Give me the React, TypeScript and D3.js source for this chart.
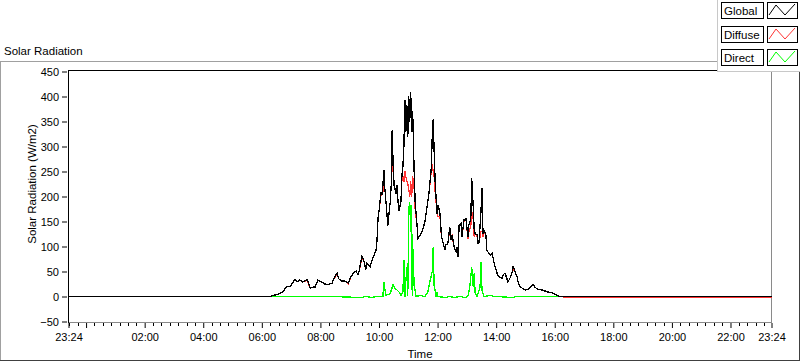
import React, { useEffect, useRef } from "react";
import * as d3 from "d3";

// times are HH:MM; a leading "23:24" belongs to the previous day
const dayTimes = [
  "23:24", "06:17", "06:27", "06:37", "06:43", "06:50", "06:58", "07:04", "07:08", "07:12",
  "07:18", "07:24", "07:33", "07:39", "07:45", "07:49", "07:55", "08:03", "08:09", "08:16",
  "08:24", "08:28", "08:34", "08:38", "08:44", "08:50", "08:57", "09:01", "09:07", "09:13",
  "09:17", "09:19", "09:25", "09:29", "09:33", "09:35", "09:42", "09:48", "09:54", "09:56",
  "09:58", "10:00", "10:04", "10:06", "10:08", "10:10", "10:12", "10:16", "10:18", "10:23",
  "10:25", "10:27", "10:29", "10:31", "10:35", "10:37", "10:39", "10:41", "10:45", "10:47",
  "10:49", "10:51", "10:53", "10:55", "10:57", "10:59", "11:01", "11:03", "11:05", "11:07",
  "11:09", "11:12", "11:14", "11:18", "11:20", "11:24", "11:28", "11:30", "11:34", "11:38",
  "11:42", "11:47", "11:49", "11:51", "11:53", "11:55", "11:59", "12:01", "12:05", "12:08",
  "12:11", "12:15", "12:17", "12:21", "12:25", "12:27", "12:30", "12:34", "12:38", "12:40",
  "12:42", "12:44", "12:48", "12:50", "12:54", "12:58", "13:00", "13:02", "13:04", "13:08",
  "13:10", "13:13", "13:15", "13:17", "13:21", "13:23", "13:25", "13:29", "13:31", "13:33",
  "13:35", "13:39", "13:41", "13:45", "13:49", "13:52", "13:56", "14:02", "14:06", "14:12",
  "14:14", "14:18", "14:22", "14:24", "14:28", "14:33", "14:35", "14:39", "14:43", "14:45",
  "14:49", "14:55", "14:59", "15:05", "15:11", "15:16", "15:20", "15:26", "15:34", "15:40",
  "15:46", "15:54", "16:00", "16:07", "16:15", "16:21", "23:24",
];

const globalValues = [
  0, 0, 3, 6, 9, 19, 20, 29, 35, 29,
  33, 29, 34, 17, 19, 19, 33, 29, 25, 24,
  27, 36, 47, 35, 31, 31, 27, 36, 47, 51,
  43, 49, 81, 71, 54, 66, 60, 79, 92, 112,
  156, 170, 209, 203, 222, 252, 216, 169, 142, 189,
  222, 332, 262, 222, 206, 222, 189, 172, 189, 243,
  260, 300, 393, 330, 383, 320, 400, 350, 408, 330,
  370, 250, 190, 142, 116, 122, 129, 136, 149, 176,
  203, 256, 316, 354, 289, 229, 165, 183, 166, 119,
  109, 93, 103, 106, 139, 113, 123, 99, 89, 99,
  79, 143, 146, 119, 153, 156, 139, 119, 143, 153,
  236, 179, 133, 126, 123, 106, 109, 173, 216, 126,
  133, 123, 93, 86, 83, 86, 66, 46, 39, 37,
  43, 47, 36, 29, 36, 49, 61, 49, 39, 29,
  19, 16, 13, 14, 19, 24, 18, 14, 13, 11,
  9, 8, 5, 1, 0, 0, 0,
];

const diffuseValues = [
  0, 0, 3, 6, 9, 19, 20, 29, 33, 29,
  33, 29, 32, 17, 19, 19, 33, 29, 25, 24,
  27, 36, 44, 35, 31, 31, 25, 36, 47, 51,
  43, 49, 76, 71, 54, 66, 60, 79, 92, 112,
  156, 170, 205, 203, 209, 235, 216, 169, 142, 189,
  222, 290, 250, 222, 206, 222, 189, 172, 189, 235,
  240, 230, 250, 240, 230, 225, 215, 200, 230, 200,
  240, 215, 175, 142, 116, 122, 129, 136, 149, 176,
  203, 250, 265, 250, 240, 210, 165, 160, 160, 119,
  109, 93, 103, 106, 133, 113, 120, 99, 89, 99,
  79, 140, 146, 119, 150, 156, 139, 115, 130, 140,
  170, 155, 120, 126, 120, 106, 109, 130, 130, 120,
  128, 123, 93, 86, 83, 86, 66, 46, 39, 37,
  43, 47, 36, 29, 36, 49, 55, 49, 39, 29,
  19, 16, 13, 14, 19, 24, 18, 14, 13, 11,
  9, 8, 5, 1, 0, -2, -2,
];

const directTimes = [
  "23:24", "06:17", "08:20", "09:25", "09:33", "09:46", "09:54", "10:08", "10:10", "10:14",
  "10:23", "10:29", "10:33", "10:37", "10:41", "10:45", "10:49", "10:51", "10:53", "10:57",
  "10:59", "11:01", "11:03", "11:05", "11:07", "11:08", "11:09", "11:12", "11:16", "11:24",
  "11:34", "11:40", "11:44", "11:49", "11:51", "11:53", "11:57", "11:59", "12:01", "12:15",
  "12:25", "12:35", "12:46", "12:56", "13:02", "13:06", "13:10", "13:13", "13:15", "13:17",
  "13:21", "13:27", "13:29", "13:31", "13:35", "13:47", "13:58", "14:35", "14:41", "16:15",
  "23:24",
];

const directValues = [
  0, 0, 0, -2, 0, -2, 0, 0, 29, 2,
  6, 24, 16, 13, 9, 2, 9, 72, 0, 59,
  2, 176, 189, 129, 183, 2, 106, 22, 0, 2,
  0, 9, 29, 49, 99, 22, 0, 9, 0, -2,
  0, -2, 0, -2, 0, 19, 59, 19, 46, 6,
  0, 19, 69, 13, 0, 2, 0, -2, 0, 0,
  0,
];

const yTicks = [-50, 0, 50, 100, 150, 200, 250, 300, 350, 400, 450];
const xTickLabels = ["23:24", "02:00", "04:00", "06:00", "08:00", "10:00", "12:00", "14:00", "16:00", "18:00", "20:00", "22:00", "23:24"];

const seriesNames = ["Global", "Diffuse", "Direct"];
const seriesColors = ["#000000", "#ff3333", "#00ff00"];

const FONT = "'Liberation Sans', Arial, sans-serif";
const base = new Date(2014, 5, 10, 0, 0);
const startDate = d3.timeMinute.offset(base, -36);
const endDate = d3.timeMinute.offset(base, 23 * 60 + 24);

function toDate(t: string, i: number) {
  const [h, m] = t.split(":").map(Number);
  let mins = h * 60 + m;
  if (i === 0 && mins > 720) mins -= 1440;
  return d3.timeMinute.offset(base, mins);
}

const left = 68.5, right = 771.5, top = 71.5, bottom = 321.5;

export default function App() {
  const axisRef = useRef<SVGGElement>(null);

  const x = d3.scaleTime().domain([startDate, endDate]).range([left, right]);
  const y = d3.scaleLinear().domain([-50, 450]).range([bottom, top]);

  const line = d3.line<[Date, number]>()
    .x((d) => x(d[0]))
    .y((d) => y(d[1]));

  const globalData = dayTimes.map((t, i) => [toDate(t, i), globalValues[i]] as [Date, number]);
  const diffuseData = dayTimes.map((t, i) => [toDate(t, i), diffuseValues[i]] as [Date, number]);
  const directData = directTimes.map((t, i) => [toDate(t, i), directValues[i]] as [Date, number]);

  useEffect(() => {
    const g = d3.select(axisRef.current);
    g.selectAll("*").remove();

    const yAxis = d3.axisLeft(y).tickValues(yTicks).tickSize(5).tickPadding(3);
    const yg = g.append("g").attr("transform", "translate(67,0)").call(yAxis);
    yg.select(".domain").remove();

    // major ticks: ends plus every two hours from midnight
    const majors: Date[] = [startDate];
    for (let j = 0; j < 12; j++) majors.push(d3.timeHour.offset(base, j * 2));
    majors.push(endDate);
    const labels = new Map<number, string>();
    xTickLabels.forEach((l, i) => {
      if (i === 0) labels.set(+startDate, l);
      else if (i === xTickLabels.length - 1) labels.set(+endDate, l);
      else labels.set(+toDate(l, i), l);
    });

    const xAxis = d3.axisBottom(x)
      .tickValues(majors)
      .tickSize(5)
      .tickPadding(5)
      .tickFormat((d) => labels.get(+(d as Date)) ?? "");
    const xg = g.append("g").attr("transform", "translate(0,323)").call(xAxis);
    xg.select(".domain").remove();

    const minors: Date[] = [];
    for (let k = -3; k <= 84; k++) {
      if (k % 7 === 0) continue;
      const d = new Date(+base + k * (120 / 7) * 60000);
      if (d >= startDate && d <= endDate) minors.push(d);
    }
    g.append("g")
      .selectAll("line")
      .data(minors)
      .join("line")
      .attr("x1", (d) => Math.round(x(d)) + 0.5)
      .attr("x2", (d) => Math.round(x(d)) + 0.5)
      .attr("y1", 323)
      .attr("y2", 326)
      .attr("stroke", "#000");

    g.selectAll(".tick text")
      .attr("font-family", FONT)
      .attr("font-size", 11)
      .attr("fill", "#000");
    g.selectAll(".tick line").attr("stroke", "#000");
  }, []);

  return (
    <svg width={800} height={361} style={{ position: "absolute", left: 0, top: 0, background: "#fff" }}>
      {/* outer panel */}
      <line x1={0} x2={800} y1={61.5} y2={61.5} stroke="#a0a0a0" />
      <line x1={0.5} x2={0.5} y1={61} y2={361} stroke="#a0a0a0" />
      <line x1={0} x2={800} y1={360.5} y2={360.5} stroke="#404040" />
      <line x1={799.5} x2={799.5} y1={61} y2={361} stroke="#404040" />
      <text x={4} y={55} fontFamily={FONT} fontSize={11.5} fill="#000">Solar Radiation</text>

      {/* plot frame */}
      <rect x={68} y={70} width={704} height={253} fill="#fff" />
      <line x1={68} x2={772} y1={70.5} y2={70.5} stroke="#000" />
      <line x1={68.5} x2={68.5} y1={70} y2={323} stroke="#000" />
      <line x1={771.5} x2={771.5} y1={71} y2={323} stroke="#8a8a8a" />
      <line x1={69} x2={772} y1={322.5} y2={322.5} stroke="#8a8a8a" />

      <path d={line(directData) ?? ""} fill="none" stroke={seriesColors[2]} strokeWidth={1.3} shapeRendering="crispEdges" />
      <path d={line(diffuseData) ?? ""} fill="none" stroke={seriesColors[1]} strokeWidth={1.3} shapeRendering="crispEdges" />
      <path d={line(globalData) ?? ""} fill="none" stroke={seriesColors[0]} strokeWidth={1.3} shapeRendering="crispEdges" />

      <g ref={axisRef} />

      <text transform="translate(36,184) rotate(-90)" textAnchor="middle" fontFamily={FONT} fontSize={11.5} fill="#000">
        Solar Radiation (W/m2)
      </text>
      <text x={420} y={358} textAnchor="middle" fontFamily={FONT} fontSize={11.5} fill="#000">Time</text>

      {/* legend */}
      <rect x={717} y={0} width={83} height={72} fill="#fff" />
      <line x1={717.5} x2={717.5} y1={0} y2={72} stroke="#c8c8c8" />
      <line x1={717} x2={800} y1={71.5} y2={71.5} stroke="#c8c8c8" />
      {seriesNames.map((name, i) => {
        const ty = [2, 26, 49][i];
        return (
          <g key={name}>
            <rect x={721.5} y={ty + 0.5} width={42} height={16} fill="#fff" stroke="#000" />
            <text x={724} y={ty + 13} fontFamily={FONT} fontSize={11.5} fill="#000">{name}</text>
            <rect x={767.5} y={ty + 0.5} width={30} height={16} fill="#fff" stroke="#000" />
            <polyline
              points={`${769},${ty + 13} ${776},${ty + 3} ${785},${ty + 13} ${795},${ty + 2}`}
              fill="none"
              stroke={seriesColors[i]}
            />
          </g>
        );
      })}
    </svg>
  );
}
